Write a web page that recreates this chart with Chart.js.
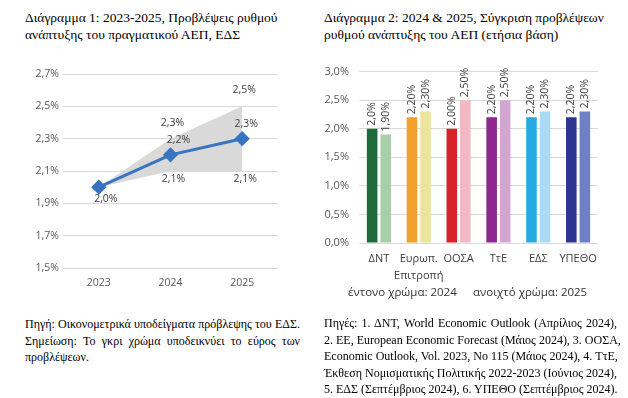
<!DOCTYPE html>
<html>
<head>
<meta charset="utf-8">
<script src="https://cdn.jsdelivr.net/npm/chart.js@4/dist/chart.umd.min.js"></script>
<style>
  html, body { margin:0; padding:0; background:#fff; width:628px; height:398px; overflow:hidden; }
  .abs { position:absolute; }
  .title { font-family:"Liberation Serif", serif; font-size:13.5px; line-height:17px; color:#000; }
  .note { font-family:"Liberation Serif", serif; font-size:12px; line-height:16.6px; color:#000; }
  .note div { white-space:nowrap; text-align:justify; text-align-last:justify; }
  .note div.last { text-align-last:left; }
  .leg { font-family:"Open Sans", sans-serif; font-size:11.5px; color:#333; white-space:nowrap; }
</style>
</head>
<body>
<div class="abs title" style="left:25px; top:9px; width:290px;">Διάγραμμα 1: 2023-2025, Προβλέψεις ρυθμού<br>ανάπτυξης του πραγματικού ΑΕΠ, ΕΔΣ</div>
<div class="abs title" style="left:324px; top:9px; width:300px;">Διάγραμμα 2: 2024 &amp; 2025, Σύγκριση προβλέψεων<br>ρυθμού ανάπτυξης του ΑΕΠ (ετήσια βάση)</div>

<div class="abs" style="left:20px; top:60px; width:280px; height:240px;"><canvas id="c1" width="280" height="240"></canvas></div>
<div class="abs" style="left:300px; top:55px; width:328px; height:250px;"><canvas id="c2" width="328" height="250"></canvas></div>

<div class="abs leg" style="left:348px; top:284px;">έντονο χρώμα: 2024</div>
<div class="abs leg" style="left:473px; top:284px;">ανοιχτό χρώμα: 2025</div>

<div class="abs note" style="left:25px; top:316px; width:275px;">
  <div>Πηγή: Οικονομετρικά υποδείγματα πρόβλεψης του ΕΔΣ.</div>
  <div>Σημείωση: Το γκρι χρώμα υποδεικνύει το εύρος των</div>
  <div class="last">προβλέψεων.</div>
</div>
<div class="abs note" style="left:324px; top:315px; width:293px;">
  <div>Πηγές: 1. ΔΝΤ, World Economic Outlook (Απρίλιος 2024),</div>
  <div>2. ΕΕ, European Economic Forecast (Μάιος 2024), 3. ΟΟΣΑ,</div>
  <div>Economic Outlook, Vol. 2023, No 115 (Μάιος 2024), 4. ΤτΕ,</div>
  <div>Έκθεση Νομισματικής Πολιτικής 2022-2023 (Ιούνιος 2024),</div>
  <div>5. ΕΔΣ (Σεπτέμβριος 2024), 6. ΥΠΕΘΟ (Σεπτέμβριος 2024).</div>
</div>

<script>
// ---- Chart 1 data ----
const years = ['2023', '2024', '2025'];
const gdpForecast = [2.0, 2.2, 2.3];
const rangeMax = [2.0, 2.3, 2.5];
const rangeMin = [2.0, 2.1, 2.1];
const leftAxisMin = 1.5, leftAxisMax = 2.7, leftAxisStep = 0.2;

// ---- Chart 2 data ----
const institutions = ['ΔΝΤ', ['Ευρωπ.', 'Επιτροπή'], 'ΟΟΣΑ', 'ΤτΕ', 'ΕΔΣ', 'ΥΠΕΘΟ'];
const growth2024 = [2.0, 2.2, 2.0, 2.2, 2.2, 2.2];
const growth2025 = [1.9, 2.3, 2.5, 2.5, 2.3, 2.3];
const labels2024 = ['2,0%', '2,20%', '2,00%', '2,20%', '2,20%', '2,20%'];
const labels2025 = ['1,90%', '2,30%', '2,50%', '2,50%', '2,30%', '2,30%'];
const rightAxisMin = 0, rightAxisMax = 3.0, rightAxisStep = 0.5;

// ---- styles ----
const colors2024 = ['#1d6b3a', '#f0a02c', '#d7222c', '#8d278e', '#27aae1', '#2d3590'];
const colors2025 = ['#a8cfa8', '#ebe49c', '#f1b9c4', '#d3a6d2', '#a9dcf2', '#6e81c3'];

const FONT = '"Open Sans", "Liberation Sans", sans-serif';
const fmt1 = v => v.toFixed(1).replace('.', ',') + '%';

// plugin: data labels for line chart
const lineLabels = {
  id: 'lineLabels',
  afterDatasetsDraw(chart) {
    const ctx = chart.ctx;
    ctx.save();
    ctx.font = '10.5px ' + FONT;
    ctx.fillStyle = '#404040';
    ctx.textAlign = 'center';
    ctx.textBaseline = 'middle';
    const mLine = chart.getDatasetMeta(0).data;
    const mMax = chart.getDatasetMeta(1).data;
    const mMin = chart.getDatasetMeta(2).data;
    gdpForecast.forEach((v, i) => {
      const p = mLine[i];
      if (i === 0) ctx.fillText(fmt1(v), p.x + 7, p.y + 12);
      else ctx.fillText(fmt1(v), p.x + (i === 1 ? 8 : 4), p.y - 15);
    });
    rangeMax.forEach((v, i) => {
      if (i === 0) return;
      const p = mMax[i];
      ctx.fillText(fmt1(v), p.x + 2, p.y - 16);
    });
    rangeMin.forEach((v, i) => {
      if (i === 0) return;
      const p = mMin[i];
      ctx.fillText(fmt1(v), p.x + 3, p.y + 8);
    });
    ctx.restore();
  }
};

new Chart(document.getElementById('c1'), {
  type: 'line',
  data: {
    labels: years,
    datasets: [
      { label: 'ΕΔΣ', data: gdpForecast, borderColor: '#3874c0', backgroundColor: '#3874c0',
        borderWidth: 3, pointStyle: 'rectRot', pointRadius: 5.5, pointHoverRadius: 5.5, fill: false, tension: 0 },
      { label: 'max', data: rangeMax, borderWidth: 0, pointRadius: 0, backgroundColor: '#d9d9d9', fill: '+1', tension: 0 },
      { label: 'min', data: rangeMin, borderWidth: 0, pointRadius: 0, backgroundColor: '#d9d9d9', fill: false, tension: 0 }
    ]
  },
  options: {
    responsive: false, animation: false,
    layout: { padding: { left: 0, right: 22, top: 14, bottom: 0 } },
    plugins: { legend: { display: false }, tooltip: { enabled: false } },
    scales: {
      x: {
        offset: true,
        grid: { display: false, drawTicks: false },
        border: { display: false },
        ticks: { color: '#595959', font: { family: FONT, size: 10.5 }, padding: 9 },
        afterFit(s) { s.height = 32; }
      },
      y: {
        min: leftAxisMin, max: leftAxisMax,
        grid: { color: '#d9d9d9', drawTicks: false },
        border: { display: false },
        ticks: { stepSize: leftAxisStep, color: '#595959', font: { family: FONT, size: 10.5 }, padding: 4,
                 callback: v => fmt1(v) },
        afterFit(s) { s.width = 43; }
      }
    }
  },
  plugins: [lineLabels]
});

// plugin: rotated bar labels
const barLabels = {
  id: 'barLabels',
  afterDatasetsDraw(chart) {
    const ctx = chart.ctx;
    ctx.save();
    ctx.font = '10.5px ' + FONT;
    ctx.fillStyle = '#404040';
    ctx.textAlign = 'left';
    ctx.textBaseline = 'middle';
    [labels2024, labels2025].forEach((arr, di) => {
      chart.getDatasetMeta(di).data.forEach((bar, i) => {
        ctx.save();
        ctx.translate(bar.x, bar.y - 3);
        ctx.rotate(-Math.PI / 2);
        ctx.fillText(arr[i], 0, 0);
        ctx.restore();
      });
    });
    ctx.restore();
  }
};

new Chart(document.getElementById('c2'), {
  type: 'bar',
  data: {
    labels: institutions,
    datasets: [
      { label: '2024', data: growth2024, backgroundColor: colors2024, categoryPercentage: 0.68, barPercentage: 0.78 },
      { label: '2025', data: growth2025, backgroundColor: colors2025, categoryPercentage: 0.68, barPercentage: 0.78 }
    ]
  },
  options: {
    responsive: false, animation: false,
    layout: { padding: { left: 0, right: 30, top: 14, bottom: 0 } },
    plugins: { legend: { display: false }, tooltip: { enabled: false } },
    scales: {
      x: {
        grid: { display: false, drawTicks: false },
        border: { display: false },
        ticks: { color: '#404040', font: { family: FONT, size: 11, lineHeight: 1.5 }, padding: 8, maxRotation: 0, autoSkip: false },
        afterFit(s) { s.height = 62; }
      },
      y: {
        min: rightAxisMin, max: rightAxisMax,
        grid: { color: '#d9d9d9', drawTicks: false },
        border: { display: false },
        ticks: { stepSize: rightAxisStep, color: '#595959', font: { family: FONT, size: 11 }, padding: 10,
                 callback: v => fmt1(v) },
        afterFit(s) { s.width = 59; }
      }
    }
  },
  plugins: [barLabels]
});
</script>
</body>
</html>
